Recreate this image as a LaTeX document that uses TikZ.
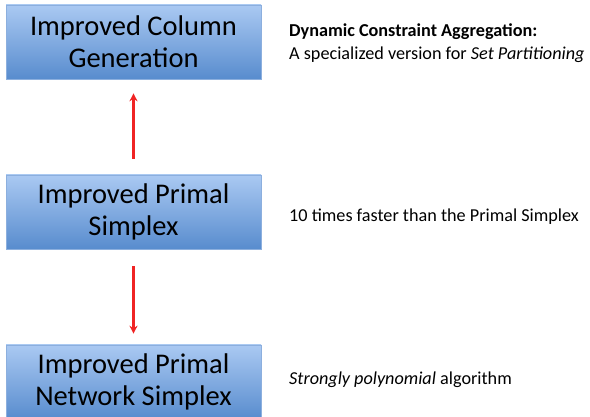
\documentclass[tikz,border=0pt]{standalone}
\usepackage{fontspec}
\setmainfont{Carlito}
\usetikzlibrary{shadows,arrows.meta}

\definecolor{boxtop}{RGB}{170,201,242}
\definecolor{boxbottom}{RGB}{88,140,206}
\definecolor{boxline}{RGB}{140,175,222}
\definecolor{arrowred}{RGB}{240,36,36}

\tikzset{
  blockbox/.style={draw=boxline, line width=0.6pt,
    top color=boxtop, bottom color=boxbottom,
    minimum width=255pt, minimum height=74pt, align=center,
    inner sep=0pt, font=\fontsize{28.5}{32}\selectfont,
    drop shadow={opacity=0.25, shadow xshift=0pt, shadow yshift=-1.5pt}},
  note/.style={anchor=west, align=left, inner sep=0pt,
    font=\fontsize{18.2}{22.5}\selectfont},
  redarrow/.style={draw=arrowred, color=arrowred, line width=2.2pt,
    -{Stealth[length=8pt,width=8pt]}}
}

\begin{document}
\begin{tikzpicture}[x=1pt,y=-1pt]
\useasboundingbox (0,0) rectangle (590,417);

\node[blockbox] (col) at (133.5,42) {Improved Column\\Generation};
\node[blockbox] (primal) at (133.5,212) {Improved Primal\\Simplex};
\node[blockbox] (network) at (133.5,382) {Improved Primal\\Network Simplex};

\path[redarrow, shorten <=16pt, shorten >=14pt] (primal) -- (col);
\path[redarrow, shorten <=17pt, shorten >=11pt] (primal) -- (network);

\node[note] (colnote) at (289,43) {\textbf{Dynamic Constraint Aggregation:}\\A specialized version for \textit{Set Partitioning}};
\node[note] (primalnote) at (289,217) {10 times faster than the Primal Simplex};
\node[note] (networknote) at (289,380) {\textit{Strongly polynomial} algorithm};
\end{tikzpicture}
\end{document}
